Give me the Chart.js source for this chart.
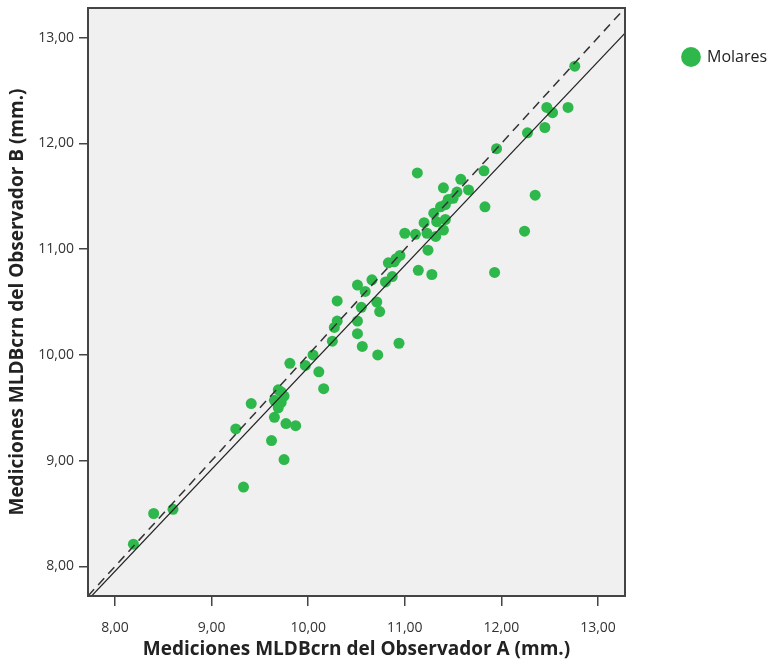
<!DOCTYPE html>
<html>
<head>
<meta charset="utf-8">
<script src="https://cdn.jsdelivr.net/npm/chart.js@4/dist/chart.umd.min.js"></script>
<style>
  body { margin: 0; background: #fff; }
  canvas { display: block; }
</style>
</head>
<body>
<canvas id="chart" width="773" height="663"></canvas>
<script>
// Observador A (x) / Observador B (y), mm.
const obsA = [8.19, 8.40, 8.60, 9.25, 9.41, 9.33, 9.62, 9.75, 9.77, 9.87,
  9.65, 9.69, 9.69, 9.75, 9.65, 9.72, 9.72, 9.81, 9.97, 10.05,
  10.11, 10.16, 10.25, 10.27, 10.30, 10.30, 10.51, 10.66, 10.59, 10.55,
  10.51, 10.51, 10.56, 10.71, 10.74, 10.72, 10.94, 10.80, 10.87, 10.83,
  10.91, 10.95, 10.89, 11.14, 11.28, 11.24, 11.00, 11.11, 11.23, 11.32,
  11.20, 11.33, 11.42, 11.40, 11.30, 11.37, 11.42, 11.50, 11.45, 11.40,
  11.54, 11.66, 11.58, 11.13, 11.82, 11.95, 11.83, 12.35, 12.24, 11.93,
  12.27, 12.45, 12.47, 12.53, 12.69, 12.76];
const obsB = [8.21, 8.50, 8.54, 9.30, 9.54, 8.75, 9.19, 9.01, 9.35, 9.33,
  9.41, 9.50, 9.67, 9.61, 9.57, 9.55, 9.65, 9.92, 9.90, 10.00,
  9.84, 9.68, 10.13, 10.26, 10.32, 10.51, 10.66, 10.71, 10.60, 10.45,
  10.32, 10.20, 10.08, 10.50, 10.41, 10.00, 10.11, 10.69, 10.74, 10.87,
  10.91, 10.94, 10.88, 10.80, 10.76, 10.99, 11.15, 11.14, 11.15, 11.12,
  11.25, 11.26, 11.28, 11.18, 11.34, 11.40, 11.42, 11.48, 11.47, 11.58,
  11.54, 11.56, 11.66, 11.72, 11.74, 11.95, 11.40, 11.51, 11.17, 10.78,
  12.10, 12.15, 12.34, 12.29, 12.34, 12.73];
const tickVals = [8, 9, 10, 11, 12, 13];
const axisMin = 7.72;
const axisMax = 13.28;
const fitSlope = 0.9636;
const fitIntercept = 0.245;

const points = obsA.map((a, i) => ({ x: a, y: obsB[i] }));
const fitStart = (axisMin - fitIntercept) / fitSlope;
const fitLine = [
  { x: fitStart, y: axisMin },
  { x: axisMax, y: fitSlope * axisMax + fitIntercept }
];
const idLine = [{ x: axisMin, y: axisMin }, { x: axisMax, y: axisMax }];

const fmt = (v) => v.toFixed(2).replace(".", ",");
const tickFont = { family: "'Open Sans', sans-serif", size: 14 };
const titleFont = { family: "'Open Sans', sans-serif", size: 19, weight: "bold" };

const framePlugin = {
  id: "frame",
  beforeDraw(chart) {
    const a = chart.chartArea;
    const ctx = chart.ctx;
    ctx.save();
    ctx.fillStyle = "#f0f0f0";
    ctx.fillRect(a.left, a.top, a.right - a.left, a.bottom - a.top);
    ctx.restore();
  },
  afterLayout(chart) {
    // nudge legend to the right
    chart.legend.left += 17;
    chart.legend.right += 17;
  },
  afterDraw(chart) {
    const a = chart.chartArea;
    const ctx = chart.ctx;
    ctx.save();
    ctx.strokeStyle = "#444";
    ctx.lineWidth = 2;
    ctx.strokeRect(a.left, a.top, a.right - a.left, a.bottom - a.top);
    ctx.restore();
  }
};

new Chart(document.getElementById("chart").getContext("2d"), {
  type: "scatter",
  data: {
    datasets: [
      {
        label: "Molares",
        data: points,
        backgroundColor: "#2eb84b",
        borderWidth: 0,
        pointRadius: 5.5,
        order: 2
      },
      {
        label: "fit",
        type: "line",
        data: fitLine,
        borderColor: "#222",
        borderWidth: 1.2,
        pointRadius: 0,
        order: 1
      },
      {
        label: "ref",
        type: "line",
        data: idLine,
        borderColor: "#333",
        borderWidth: 1.5,
        borderDash: [9, 6],
        pointRadius: 0,
        order: 1
      }
    ]
  },
  options: {
    responsive: false,
    animation: false,
    layout: { padding: { top: 8, left: 0, bottom: 0, right: 18 } },
    plugins: {
      tooltip: { enabled: false },
      legend: {
        position: "right",
        align: "start",
        maxWidth: 130,
        labels: {
          usePointStyle: true,
          pointStyle: "circle",
          boxHeight: 14,
          padding: 41,
          color: "#222",
          font: { family: "'Open Sans', sans-serif", size: 16 },
          filter: (item) => item.datasetIndex === 0
        }
      }
    },
    scales: {
      x: {
        type: "linear",
        min: axisMin,
        max: axisMax,
        afterBuildTicks: (s) => { s.ticks = tickVals.map((v) => ({ value: v })); },
        afterFit: (s) => { s.height = 67; s.paddingLeft = 0; s.paddingRight = 0; },
        border: { display: false },
        grid: { drawOnChartArea: false, drawTicks: true, tickLength: 10, color: "#444", lineWidth: 1.5 },
        ticks: { color: "#333", font: tickFont, padding: 14, callback: (v) => fmt(v) },
        title: {
          display: true,
          text: "Mediciones MLDBcrn del Observador A (mm.)",
          color: "#222",
          font: titleFont,
          padding: { top: 0, bottom: 2 }
        }
      },
      y: {
        type: "linear",
        min: axisMin,
        max: axisMax,
        afterBuildTicks: (s) => { s.ticks = tickVals.map((v) => ({ value: v })); },
        afterFit: (s) => { s.width = 88; s.paddingTop = 0; s.paddingBottom = 0; },
        border: { display: false },
        grid: { drawOnChartArea: false, drawTicks: true, tickLength: 9, color: "#444", lineWidth: 1.5 },
        ticks: { color: "#333", font: tickFont, padding: 5, callback: (v) => fmt(v) },
        title: {
          display: true,
          text: "Mediciones MLDBcrn del Observador B (mm.)",
          color: "#222",
          font: titleFont,
          padding: { top: 6, bottom: 0 }
        }
      }
    }
  },
  plugins: [framePlugin]
});
</script>
</body>
</html>
